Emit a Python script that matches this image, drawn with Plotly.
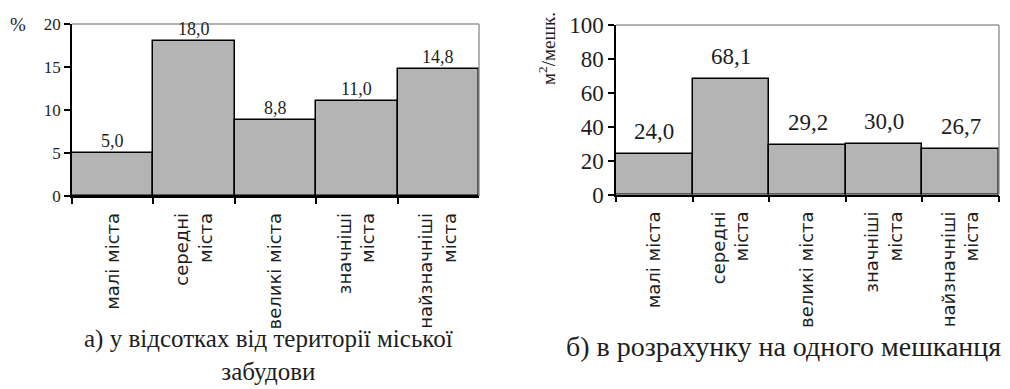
import plotly.graph_objects as go
from plotly.subplots import make_subplots

categories = ["малі міста", "середні<br>міста", "великі міста", "значніші<br>міста", "найзначніші<br>міста"]
share_pct = [5.0, 18.0, 8.8, 11.0, 14.8]
per_resident = [24.0, 68.1, 29.2, 30.0, 26.7]
left_ticks = [0, 5, 10, 15, 20]
right_ticks = [0, 20, 40, 60, 80, 100]
caption_a = "а) у відсотках від території міської<br>забудови"
caption_b = "б) в розрахунку на одного мешканця"

def fmt(v):
    return f"{v:.1f}".replace(".", ",")

SERIF = "Liberation Serif"
SANS = "DejaVu Sans"
BAR = "#b4b4b4"
TXT = "#1e1e1e"

W, H = 1010, 389
L_DOM = ([72 / W, 479 / W], [1 - 196 / H, 1 - 24 / H])
R_DOM = ([616 / W, 999 / W], [1 - 194.5 / H, 1 - 25 / H])

fig = make_subplots(rows=1, cols=2)
fig.add_trace(go.Bar(x=categories, y=share_pct, marker=dict(color=BAR, line=dict(color="black", width=1.5)),
                     showlegend=False), row=1, col=1)
fig.add_trace(go.Bar(x=categories, y=per_resident, marker=dict(color=BAR, line=dict(color="black", width=1.5)),
                     showlegend=False), row=1, col=2)

common_x = dict(type="category", tickson="boundaries", ticks="outside", ticklen=6, tickwidth=1.5,
                tickcolor="black", showline=True, linecolor="black", linewidth=1.5, tickangle=-90,
                tickfont=dict(family=SANS, size=18, color=TXT), showgrid=False, ticklabelstandoff=8,
                automargin=False)
common_y = dict(ticks="outside", ticklen=6, tickwidth=1.5, tickcolor="black", showline=True,
                linecolor="black", linewidth=1.5, showgrid=False, zeroline=False, automargin=False)

fig.update_xaxes(domain=L_DOM[0], **common_x, row=1, col=1)
fig.update_xaxes(domain=R_DOM[0], **common_x, row=1, col=2)
fig.update_yaxes(domain=L_DOM[1], range=[0, 20], tickvals=left_ticks,
                 tickfont=dict(family=SERIF, size=17, color=TXT), **common_y, row=1, col=1)
fig.update_yaxes(domain=R_DOM[1], range=[0, 100], tickvals=right_ticks,
                 tickfont=dict(family=SERIF, size=23, color=TXT), **common_y, row=1, col=2)

ann = []
for c, v in zip(categories, share_pct):
    ann.append(dict(x=c, y=v, xref="x", yref="y", text=fmt(v), showarrow=False, yanchor="bottom", yshift=0,
                    font=dict(family=SERIF, size=18, color=TXT)))
for c, v in zip(categories, per_resident):
    ann.append(dict(x=c, y=v, xref="x2", yref="y2", text=fmt(v), showarrow=False, yanchor="bottom", yshift=8,
                    font=dict(family=SERIF, size=23, color=TXT)))

def paper_text(px, py, text, size, angle=0):
    return dict(x=px / W, y=1 - py / H, xref="paper", yref="paper", text=text, showarrow=False,
                xanchor="center", yanchor="middle", textangle=angle, align="center",
                font=dict(family=SERIF, size=size, color=TXT))

ann.append(paper_text(18, 25, "%", 19))
ann.append(paper_text(547, 49, "м<sup>2</sup>/мешк.", 19, -90))
ann.append(paper_text(268, 355, caption_a, 25))
ann.append(paper_text(783, 346, caption_b, 28))

shapes = []
for (xd, yd) in [L_DOM, R_DOM]:
    x0, x1 = xd
    y0, y1 = yd
    shapes.append(dict(type="line", xref="paper", yref="paper", x0=x0, x1=x1, y0=y1, y1=y1,
                       line=dict(color="#999", width=1.5)))
    shapes.append(dict(type="line", xref="paper", yref="paper", x0=x1, x1=x1, y0=y0, y1=y1,
                       line=dict(color="#999", width=1.5)))

fig.update_layout(width=W, height=H, margin=dict(l=0, r=0, t=0, b=0), bargap=0,
                  plot_bgcolor="white", paper_bgcolor="white", annotations=ann, shapes=shapes)
fig.write_html("out.html", config={"displayModeBar": False},
               post_script="document.body.style.margin='0';")
